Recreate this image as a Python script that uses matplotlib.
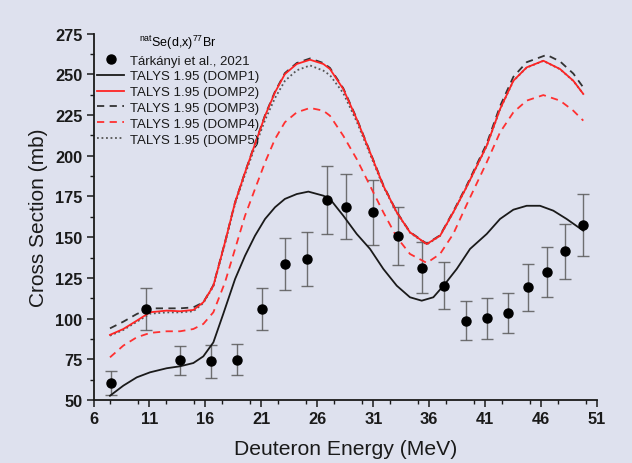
import matplotlib
matplotlib.use("Agg")
import matplotlib.pyplot as plt
from matplotlib.ticker import MultipleLocator

plt.rcParams['font.family'] = ['Liberation Sans', 'DejaVu Sans']
plt.rcParams['mathtext.fontset'] = 'custom'
plt.rcParams['mathtext.rm'] = 'Liberation Sans'
plt.rcParams['mathtext.it'] = 'Liberation Sans:italic'

# Experimental data (Tárkányi et al., 2021)
exp_E = [7.54, 10.66, 13.76, 16.47, 18.85, 21.06, 23.1, 25.05, 26.84, 28.59, 30.95,
         33.21, 35.33, 37.35, 39.32, 41.19, 43.07, 44.8, 46.53, 48.16, 49.77]
exp_cs = [60.3, 105.9, 74.4, 73.8, 74.6, 105.9, 133.3, 136.6, 173.0, 168.7, 165.3,
          150.7, 131.3, 120.2, 98.7, 100.2, 103.4, 119.2, 128.6, 141.3, 157.7]
exp_err = [7.5, 13.0, 9.0, 10.0, 9.5, 13.0, 16.0, 16.7, 21.0, 20.0, 20.0,
           18.0, 15.7, 14.5, 12.0, 12.5, 12.5, 14.4, 15.4, 17.0, 19.0]

# TALYS 1.95 curves
d1_E = [7.47, 8.66, 9.86, 11.05, 12.54, 13.73, 14.92, 15.81, 16.71, 17.6, 18.65, 19.54,
        20.43, 21.33, 22.22, 23.1, 24.16, 25.2, 26.54, 27.13, 28.32, 29.52, 30.71, 31.9,
        33.1, 34.28, 35.33, 36.37, 37.41, 38.46, 39.65, 41.14, 42.33, 43.52, 44.71, 45.9,
        47.09, 48.28, 49.77]
d1_cs = [52.6, 58.8, 63.9, 67.0, 69.5, 70.7, 72.7, 76.8, 85.4, 103.0, 124.3, 138.6,
         150.9, 161.2, 168.4, 173.5, 176.5, 178.0, 175.5, 173.5, 163.2, 152.0, 142.8, 130.5,
         120.2, 113.1, 111.0, 113.1, 121.3, 130.5, 142.8, 152.0, 161.2, 166.9, 169.3, 169.3,
         166.3, 161.2, 154.0]

d2_E = [7.47, 8.66, 9.86, 11.05, 12.54, 13.73, 14.92, 15.81, 16.71, 17.75, 18.65, 19.54,
        20.43, 21.33, 22.22, 23.1, 24.16, 25.35, 26.54, 27.13, 28.32, 29.52, 30.71, 31.9,
        33.1, 34.28, 35.78, 36.97, 38.15, 39.35, 41.14, 42.33, 43.52, 44.71, 46.2, 47.69,
        48.88, 49.77]
d2_cs = [90.0, 93.6, 98.7, 103.9, 104.9, 104.5, 105.3, 110.0, 120.2, 146.9, 171.4, 189.8,
         207.2, 224.6, 239.0, 250.2, 256.4, 259.0, 256.4, 253.3, 241.0, 222.6, 202.2, 181.6,
         165.3, 153.0, 145.8, 150.9, 165.3, 181.0, 206.2, 228.7, 246.1, 254.3, 258.4, 253.3,
         246.1, 238.0]

d3_E = [7.47, 8.66, 9.86, 11.05, 12.54, 13.73, 14.92, 15.81, 16.71, 17.75, 18.65, 19.54,
        20.43, 21.33, 22.22, 23.1, 24.16, 25.35, 26.54, 27.13, 28.32, 29.52, 30.71, 31.9,
        33.1, 34.28, 35.78, 36.97, 38.15, 39.35, 41.14, 42.33, 43.52, 44.71, 46.5, 47.69,
        48.88, 49.77]
d3_cs = [94.0, 98.1, 102.8, 106.3, 106.3, 106.3, 106.9, 110.0, 120.5, 147.0, 171.5, 190.0,
         207.5, 225.0, 239.5, 250.8, 257.0, 259.8, 257.0, 254.0, 241.5, 223.0, 202.5, 182.0,
         165.5, 153.2, 146.0, 151.2, 165.8, 181.8, 207.5, 230.5, 248.5, 257.5, 262.0, 258.0,
         250.5, 242.0]

d4_E = [7.47, 8.66, 9.86, 11.05, 12.54, 13.73, 14.92, 15.81, 16.71, 17.75, 18.65, 19.54,
        20.43, 21.33, 22.22, 23.1, 24.16, 25.35, 26.54, 27.13, 28.32, 29.52, 30.71, 31.9,
        33.1, 34.28, 35.78, 36.97, 38.15, 39.35, 41.14, 42.33, 43.52, 44.71, 46.2, 47.69,
        48.88, 49.77]
d4_cs = [76.2, 83.4, 88.5, 91.2, 92.2, 92.2, 93.6, 96.7, 103.9, 122.3, 142.8, 163.2,
         179.6, 196.0, 210.3, 220.6, 226.7, 229.4, 227.7, 224.6, 212.3, 198.0, 181.6, 165.3,
         150.0, 139.7, 134.2, 139.7, 152.0, 170.0, 196.0, 214.4, 226.7, 233.9, 237.3, 233.9,
         227.7, 221.6]

d5_E = [7.47, 8.66, 9.86, 11.05, 12.54, 13.73, 14.92, 15.81, 16.71, 17.75, 18.65, 19.54,
        20.43, 21.33, 22.22, 23.1, 24.16, 25.35, 26.54, 27.13, 28.32, 29.52, 30.71, 31.9,
        33.1, 34.28, 35.78, 36.97, 38.15, 39.35, 41.14, 42.33, 43.52, 44.71, 46.2, 47.69,
        48.88, 49.77]
d5_cs = [89.5, 93.0, 98.0, 103.0, 103.8, 103.8, 104.5, 109.5, 119.8, 146.0, 170.5, 188.5,
         205.5, 222.0, 235.5, 246.0, 252.5, 255.5, 252.3, 249.5, 238.5, 221.0, 201.0, 181.0,
         165.0, 152.8, 145.5, 150.8, 165.2, 181.0, 206.0, 228.5, 246.0, 254.2, 258.3, 253.2,
         246.0, 238.0]

x_ticks = [6, 11, 16, 21, 26, 31, 36, 41, 46, 51]
y_ticks = [50, 75, 100, 125, 150, 175, 200, 225, 250, 275]

bg = '#dee1ee'
fig = plt.figure(figsize=(6.32, 4.64), dpi=100, facecolor=bg)
ax = fig.add_axes([0.148, 0.1358, 0.7967, 0.7894], facecolor=bg)

ax.errorbar(exp_E, exp_cs, yerr=exp_err, fmt='none', ecolor='#5a5a5a', elinewidth=1.0,
            capsize=4, capthick=1.0, alpha=0.85, zorder=2)
ax.plot(exp_E, exp_cs, 'o', color='black', markersize=6.5, ls='none',
        label='Tárkányi et al., 2021', zorder=5)

ax.plot(d1_E, d1_cs, color='#1a1a1a', lw=1.3, label='TALYS 1.95 (DOMP1)', zorder=4)
ax.plot(d2_E, d2_cs, color='#ff2424', lw=1.3, label='TALYS 1.95 (DOMP2)', zorder=4)
ax.plot(d3_E, d3_cs, color='#333333', lw=1.3, ls=(0, (4, 3)), label='TALYS 1.95 (DOMP3)', zorder=3)
ax.plot(d4_E, d4_cs, color='#ff3030', lw=1.3, ls=(0, (4, 3)), label='TALYS 1.95 (DOMP4)', zorder=3)
ax.plot(d5_E, d5_cs, color='#555555', lw=1.3, ls=(0, (1, 1.5)), label='TALYS 1.95 (DOMP5)', zorder=3)

ax.set_xlim(6, 51)
ax.set_ylim(50, 275)
ax.set_xticks(x_ticks)
ax.set_yticks(y_ticks)
ax.xaxis.set_minor_locator(MultipleLocator(2.5))
ax.yaxis.set_minor_locator(MultipleLocator(12.5))
ax.tick_params(axis='both', which='major', direction='out', length=5, width=1.1,
               labelsize=11.8, colors='#1a1a1a', pad=3)
ax.tick_params(axis='both', which='minor', direction='out', length=3, width=1.0, colors='#1a1a1a')
for lab in ax.get_xticklabels() + ax.get_yticklabels():
    lab.set_fontweight('bold')

for s in ['top', 'right']:
    ax.spines[s].set_visible(False)
for s in ['left', 'bottom']:
    ax.spines[s].set_linewidth(1.3)
    ax.spines[s].set_color('#1a1a1a')

ax.set_xlabel('Deuteron Energy (MeV)', fontsize=15.2, color='#1a1a1a', labelpad=9)
ax.set_ylabel('Cross Section (mb)', fontsize=15, color='#1a1a1a', labelpad=5)

leg = ax.legend(loc='upper left', bbox_to_anchor=(-0.012, 1.028), frameon=False, fontsize=9.5,
                title=r'$^{\mathrm{nat}}$Se(d,x)$^{77}$Br', title_fontsize=9.0,
                handlelength=2.1, handletextpad=0.4, labelspacing=0.27, borderpad=0.2)
for t in leg.get_texts():
    t.set_color('#1a1a1a')

fig.savefig('out.png', dpi=100, facecolor=bg)
